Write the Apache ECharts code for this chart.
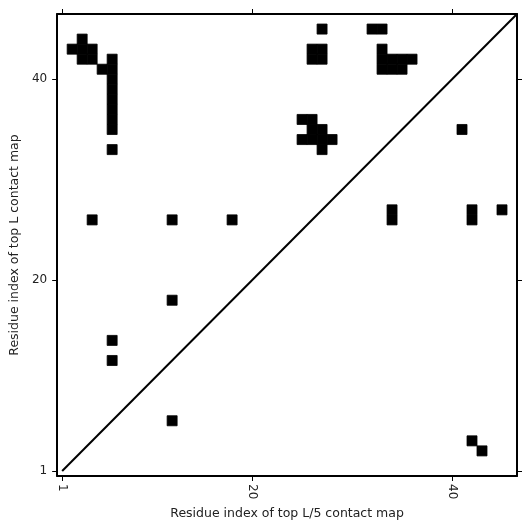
<!DOCTYPE html>
<html>
<head>
<meta charset="utf-8">
<script src="https://cdn.jsdelivr.net/npm/echarts@6/dist/echarts.min.js"></script>
<style>html,body{margin:0;padding:0;background:#fff}#c{width:531px;height:531px}</style>
</head>
<body>
<div id="c"></div>
<script>
// Contact cells of the top L contact map (residue i, residue j)
const topLCellsX = [3, 2, 3, 4, 3, 4, 6, 5, 6, 6, 6, 6, 6, 6, 6, 6,
  27, 32, 33, 26, 27, 33, 26, 27, 33, 34, 35, 36, 33, 34, 35,
  25, 26, 26, 27, 25, 26, 27, 28, 27,
  4, 12, 18, 12, 6, 6];
const topLCellsY = [44, 43, 43, 43, 42, 42, 42, 41, 41, 40, 39, 38, 37, 36, 35, 33,
  45, 45, 45, 43, 43, 43, 42, 42, 42, 42, 42, 42, 41, 41, 41,
  36, 36, 35, 35, 34, 34, 34, 34, 33,
  26, 26, 26, 18, 14, 12];
// Contact cells of the top L/5 contact map
const topL5CellsX = [12, 34, 34, 42, 42, 45, 41, 42, 43];
const topL5CellsY = [6, 27, 26, 27, 26, 27, 35, 4, 3];
// Axis settings
const axisMin = 0.5;
const axisMax = 46.5;
const tickValues = [1, 20, 40];
const diagonalStart = 1;

const cells = [];
topLCellsX.forEach((x, i) => cells.push([x, topLCellsY[i]]));
topL5CellsX.forEach((x, i) => cells.push([x, topL5CellsY[i]]));

const font = 'DejaVu Sans';
function mkAxis(pos, showLabel, isX) {
  const a = {
    type: 'value', position: pos, min: axisMin, max: axisMax,
    axisLine: { show: true, onZero: false, lineStyle: { color: '#000', width: 2 } },
    axisTick: { show: true, customValues: tickValues, length: 5, lineStyle: { color: '#000', width: 1 } },
    axisLabel: { show: showLabel, customValues: tickValues, color: '#222', fontFamily: font, fontSize: 12, margin: isX ? 8 : 10 },
    splitLine: { show: false }
  };
  if (isX && showLabel) { a.axisLabel.rotate = -90; }
  return a;
}
const xb = mkAxis('bottom', true, true);
xb.name = 'Residue index of top L/5 contact map';
xb.nameLocation = 'middle'; xb.nameGap = 29;
xb.nameTextStyle = { color: '#222', fontFamily: font, fontSize: 12.5 };
const yl = mkAxis('left', true, false);
yl.name = 'Residue index of top L contact map';
yl.nameLocation = 'middle'; yl.nameGap = 27;
yl.nameTextStyle = { color: '#222', fontFamily: font, fontSize: 12.5 };

const chart = echarts.init(document.getElementById('c'));
chart.setOption({
  animation: false,
  backgroundColor: '#fff',
  grid: { left: 55, right: 14, top: 14, bottom: 55, containLabel: false },
  xAxis: [xb, mkAxis('top', false, true)],
  yAxis: [yl, mkAxis('right', false, false)],
  series: [
    {
      type: 'custom',
      xAxisIndex: 0, yAxisIndex: 0,
      data: cells,
      renderItem: function (params, api) {
        const c = api.coord([api.value(0), api.value(1)]);
        const s = api.size([1, 1]);
        return {
          type: 'rect',
          shape: { x: c[0] - s[0] / 2, y: c[1] - s[1] / 2, width: s[0], height: s[1] },
          style: { fill: '#000', stroke: '#000', lineWidth: 0.8 }
        };
      },
      clip: true
    },
    {
      type: 'line',
      xAxisIndex: 0, yAxisIndex: 0,
      data: [[diagonalStart, diagonalStart], [axisMax, axisMax]],
      symbol: 'none',
      lineStyle: { color: '#000', width: 2 },
      clip: true
    }
  ]
});
</script>
</body>
</html>
